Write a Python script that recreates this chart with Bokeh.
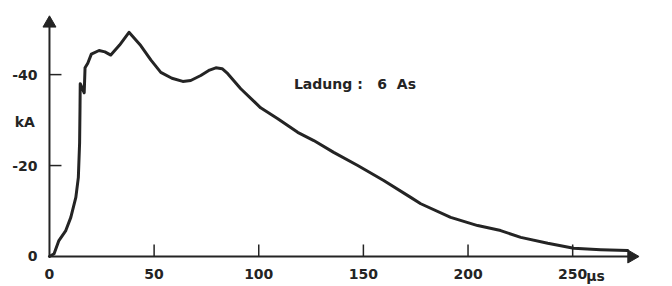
import math
from bokeh.plotting import figure
from bokeh.models import Range1d, FixedTicker, Label, ColumnDataSource
from bokeh.embed import file_html
from bokeh.resources import INLINE

# --- data ---
time_us = [0, 2.2, 4.5, 7.8, 10.2, 12.6, 13.8, 14.4, 14.6, 14.7, 16.6, 17.0, 18.3, 20.0,
           23.7, 26.5, 29.3, 33.5, 38.0, 43.6, 48.5, 53.2, 58.5, 63.7, 67.5, 72.3, 76.5,
           79.5, 82.5, 85.2, 91.4, 100.9, 109.1, 118.6, 126.3, 135.8, 147.3, 159.7, 172.6,
           177.4, 191.7, 204.6, 215.6, 225.2, 238.1, 250.5, 263.4, 276.3]
current_kA = [0, -0.6, -3.5, -5.7, -8.6, -13.0, -17.4, -25.0, -33.0, -38.0, -36.0, -41.5,
              -42.5, -44.5, -45.3, -45.0, -44.3, -46.5, -49.3, -46.4, -43.2, -40.5, -39.2,
              -38.5, -38.7, -39.8, -41.0, -41.5, -41.3, -40.2, -36.9, -32.7, -30.3, -27.3,
              -25.5, -22.9, -20.0, -16.7, -13.0, -11.6, -8.6, -6.8, -5.7, -4.2, -2.9, -1.8,
              -1.5, -1.3]

x_ticks = [0, 50, 100, 150, 200, 250]
y_ticks_kA = [0, -20, -40]
x_unit = "µs"
y_unit = "kA"
annotation = "Ladung\u00a0:\u00a0\u00a0\u00a06\u00a0\u00a0As"

x_axis_end = 281.0
y_axis_end_kA = -52.6

INK = "#242424"
FONT = "DejaVu Sans"

# the (negative) current is drawn upwards: plot its magnitude, label ticks with the sign
mag = [-v for v in current_kA]
y_ticks = [-v for v in y_ticks_kA]
y_tick_labels = {m: ("0" if v == 0 else "-%d" % -v) for m, v in zip(y_ticks, y_ticks_kA)}
y_end = -y_axis_end_kA

X0, X1 = -23.4, 297.7
Y0, Y1 = -6.6, 56.3
W, H = 672, 286
px_x = (X1 - X0) / W      # data units per pixel
px_y = (Y1 - Y0) / H

p = figure(width=W, height=H, output_backend="svg", toolbar_location=None,
           x_range=Range1d(X0, X1), y_range=Range1d(Y0, Y1), min_border=0)
p.outline_line_color = None
p.xgrid.visible = False
p.ygrid.visible = False
p.background_fill_color = "white"
p.border_fill_color = "white"

for ax in (p.xaxis[0], p.yaxis[0]):
    ax.fixed_location = 0
    ax.axis_line_color = None
    ax.major_tick_line_color = None
    ax.minor_tick_line_color = None
    ax.major_label_text_font = FONT
    ax.major_label_text_font_style = "bold"
    ax.major_label_text_font_size = "14px"
    ax.major_label_text_color = INK

p.xaxis[0].ticker = FixedTicker(ticks=x_ticks)
p.xaxis[0].major_label_standoff = 7
p.yaxis[0].ticker = FixedTicker(ticks=y_ticks)
p.yaxis[0].major_label_standoff = 6
p.yaxis[0].major_label_overrides = y_tick_labels

src = ColumnDataSource(data=dict(t=time_us, i=mag))
p.line("t", "i", source=src, line_width=3, line_color=INK, line_join="round", line_cap="round")

# axis lines
p.segment(x0=[0, 0], y0=[0, 0], x1=[0, x_axis_end - 6 * px_x], y1=[y_end - 6 * px_y, 0],
          line_width=2, line_color=INK, level="overlay")
# inward tick marks (12 px)
xt = [t for t in x_ticks if t != 0]
p.segment(x0=xt, y0=[0] * len(xt), x1=xt, y1=[12 * px_y] * len(xt), line_width=1.5,
          line_color=INK, level="overlay")
yt = [t for t in y_ticks if t != 0]
p.segment(x0=[0] * len(yt), y0=yt, x1=[12 * px_x] * len(yt), y1=yt, line_width=1.5,
          line_color=INK, level="overlay")
# arrow heads
p.scatter(x=[0, x_axis_end - 6 * px_x], y=[y_end - 6 * px_y, 0], marker="triangle", size=13,
          angle=[0, -math.pi / 2], fill_color=INK, line_color=INK, level="overlay")

p.add_layout(Label(x=116.8, y=38.0, text=annotation, text_font=FONT, text_font_style="bold",
                   text_font_size="14px", text_color=INK, text_baseline="middle", text_align="left"))
p.add_layout(Label(x=-16.6, y=29.5, text=y_unit, text_font=FONT, text_font_style="bold",
                   text_font_size="14px", text_color=INK, text_baseline="middle", text_align="left"))
p.add_layout(Label(x=256.5, y=-4.4, text=x_unit, text_font=FONT, text_font_style="bold",
                   text_font_size="14px", text_color=INK, text_baseline="alphabetic", text_align="left"))

open("out.html", "w").write(file_html(p, INLINE))
